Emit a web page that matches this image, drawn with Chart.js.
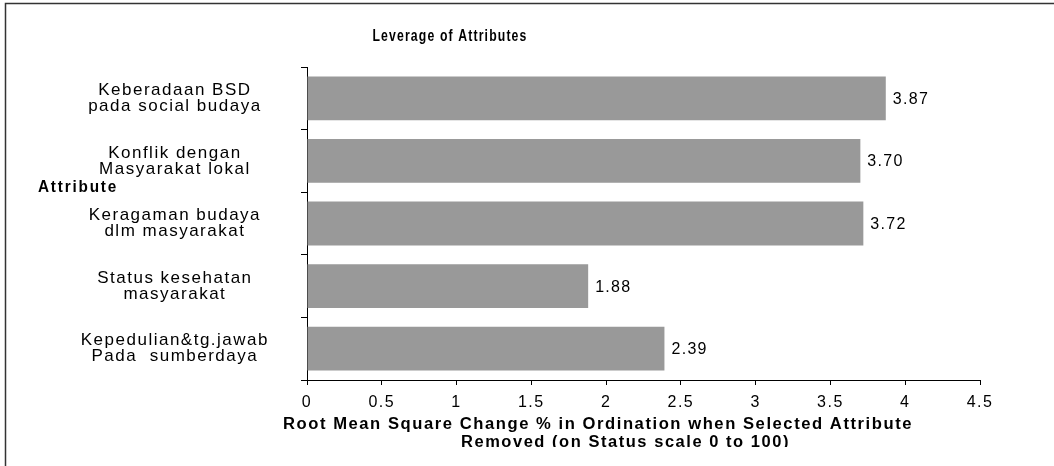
<!DOCTYPE html>
<html>
<head>
<meta charset="utf-8">
<title>Leverage of Attributes</title>
<script src="https://cdn.jsdelivr.net/npm/chart.js@4/dist/chart.umd.min.js"></script>
<style>
  html, body { margin: 0; padding: 0; background: #fff; }
  #wrap { width: 1054px; height: 466px; }
</style>
</head>
<body>
<div id="wrap"><canvas id="leverage-chart" width="1054" height="466"></canvas></div>
<script>
'use strict';

/* ─── Data ──────────────────────────────────────────────────── */
const attributes = [
  ['Keberadaan BSD', 'pada social budaya'],
  ['Konflik dengan', 'Masyarakat lokal'],
  ['Keragaman budaya', 'dlm masyarakat'],
  ['Status kesehatan', 'masyarakat'],
  ['Kepedulian&tg.jawab', 'Pada  sumberdaya'],
];
const leverage = [3.87, 3.70, 3.72, 1.88, 2.39];

const axisMin  = 0;
const axisMax  = 4.5;
const axisStep = 0.5;

const chartTitle = 'Leverage of Attributes';
const yTitle     = 'Attribute';
const xTitle     = ['Root Mean Square Change % in Ordination when Selected Attribute',
                    'Removed (on Status scale 0 to 100)'];

const FONT = '"Liberation Sans", Arial, sans-serif';

/* ─── Helpers ───────────────────────────────────────────────── */
// the source uses a tall, squeezed Arial: draw big and squash to the wanted width
function fitText(ctx, text, cx, cy, width) {
  const w = ctx.measureText(text).width;
  ctx.save();
  ctx.translate(cx, cy);
  ctx.scale(width / w, 1);
  ctx.fillText(text, 0, 0);
  ctx.restore();
}

/* ─── Plugins ───────────────────────────────────────────────── */
// canvas resets its state on resize, so put letter spacing back before measuring/drawing
const spacing = {
  id: 'spacing',
  beforeLayout(chart) { chart.ctx.letterSpacing = '1.5px'; },
  beforeDraw(chart) {
    const ctx = chart.ctx;
    ctx.save();
    ctx.fillStyle = '#fff';
    ctx.fillRect(0, 0, chart.width, chart.height);
    ctx.restore();
    ctx.letterSpacing = '1.5px';
  }
};

const extras = {
  id: 'extras',
  afterDraw(chart) {
    const ctx = chart.ctx;
    ctx.save();

    // frame (top + left only, the rest is cropped off)
    ctx.strokeStyle = '#333';
    ctx.lineWidth = 1.5;
    ctx.beginPath();
    ctx.moveTo(5.5, chart.height);
    ctx.lineTo(5.5, 3.5);
    ctx.lineTo(chart.width, 3.5);
    ctx.stroke();

    ctx.fillStyle = '#000';
    ctx.textBaseline = 'middle';
    ctx.textAlign = 'center';

    ctx.font = 'bold 16px ' + FONT;
    ctx.letterSpacing = '1.5px';
    fitText(ctx, chartTitle, 450, 37, 155);
    ctx.font = 'bold 17px ' + FONT;
    ctx.letterSpacing = '2px';
    fitText(ctx, yTitle, 78, 187, 80);

    // x axis title, second line is cut by the bottom of the frame
    ctx.beginPath();
    ctx.rect(0, 0, chart.width, 447);
    ctx.clip();
    ctx.letterSpacing = '1.5px';
    ctx.font = 'bold 16px ' + FONT;
    fitText(ctx, xTitle[0], 598, 425, 630);
    fitText(ctx, xTitle[1], 625.5, 443, 329);
    ctx.restore();
  }
};

const valueLabels = {
  id: 'valueLabels',
  afterDatasetsDraw(chart) {
    const ctx  = chart.ctx;
    const meta = chart.getDatasetMeta(0);
    ctx.save();
    ctx.fillStyle = '#000';
    ctx.letterSpacing = '1.3px';
    ctx.font = '16px ' + FONT;
    ctx.textAlign = 'left';
    ctx.textBaseline = 'middle';
    meta.data.forEach((bar, i) => {
      ctx.fillText(leverage[i].toFixed(2), bar.x + 7, bar.y + 1);
    });
    ctx.restore();
  }
};

/* ─── Chart ─────────────────────────────────────────────────── */
new Chart(document.getElementById('leverage-chart'), {
  type: 'bar',
  data: {
    labels: attributes,
    datasets: [{
      data: leverage,
      backgroundColor: '#999999',
      borderWidth: 0,
      barPercentage: 0.7,
      categoryPercentage: 1,
    }]
  },
  options: {
    indexAxis: 'y',
    responsive: false,
    animation: false,
    events: [],
    layout: { padding: { top: 67, right: 74, left: 0, bottom: 0 } },
    plugins: {
      legend:  { display: false },
      tooltip: { enabled: false },
      title:   { display: false },
    },
    scales: {
      x: {
        min: axisMin,
        max: axisMax,
        afterFit: s => { s.height = 86; },
        afterBuildTicks: s => {
          s.ticks = [];
          for (let v = axisMin; v <= axisMax + 1e-9; v += axisStep) s.ticks.push({ value: v });
        },
        border: { display: true, color: '#000', width: 1 },
        grid: { drawOnChartArea: false, drawTicks: true, tickLength: 5, color: '#000' },
        ticks: { color: '#000', font: { family: FONT, size: 16, lineHeight: 1 }, padding: 10,
                 maxRotation: 0, autoSkip: false, callback: v => String(v) },
      },
      y: {
        afterFit: s => { s.width = 307; },
        border: { display: true, color: '#000', width: 1 },
        grid: { drawOnChartArea: false, drawTicks: true, tickLength: 6, color: '#000', offset: true },
        ticks: { color: '#000', font: { family: FONT, size: 17, lineHeight: 0.95 },
                 crossAlign: 'center', padding: 32, autoSkip: false },
      }
    }
  },
  plugins: [spacing, valueLabels, extras]
});
</script>
</body>
</html>
